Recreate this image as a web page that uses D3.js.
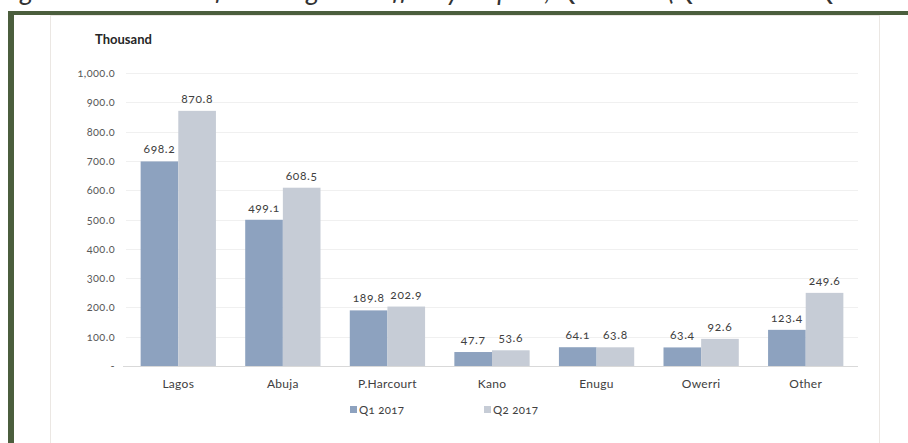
<!DOCTYPE html>
<html>
<head>
<meta charset="utf-8">
<script src="https://cdn.jsdelivr.net/npm/d3@7"></script>
<style>
  html, body { margin: 0; padding: 0; background: #ffffff; }
  svg { display: block; }
  text { font-family: Lato, "Open Sans", sans-serif; font-variant-numeric: oldstyle-nums; }
</style>
</head>
<body>
<svg id="chart" width="908" height="443"></svg>
<script>
const categories = ["Lagos", "Abuja", "P.Harcourt", "Kano", "Enugu", "Owerri", "Other"];
const seriesNames = ["Q1 2017", "Q2 2017"];
const q1Values = [698.2, 499.1, 189.8, 47.7, 64.1, 63.4, 123.4];
const q2Values = [870.8, 608.5, 202.9, 53.6, 63.8, 92.6, 249.6];
const yTicks = [0, 100, 200, 300, 400, 500, 600, 700, 800, 900, 1000];
const yTickLabels = ["-", "100.0", "200.0", "300.0", "400.0", "500.0", "600.0", "700.0", "800.0", "900.0", "1,000.0"];
const unitLabel = "Thousand";
const figureTitle = "Figure 9: Number of Passengers Traffic by Airport, Q2 2017 (Q1 2017 vs Q2 2017)";

const colors = ["#8da2bf", "#c6ccd6"];
const svg = d3.select("#chart");

// cut-off figure title at very top (only descenders visible, as in the source crop)
svg.append("text")
  .attr("x", 0).attr("y", 0)
  .attr("font-size", 27).attr("font-style", "italic")
  .attr("fill", "#333")
  .style("font-variant-numeric", "normal")
  .text(figureTitle);

// green frame
svg.append("rect").attr("x", 8).attr("y", 11).attr("width", 900).attr("height", 4).attr("fill", "#4b5e3d");
svg.append("rect").attr("x", 8).attr("y", 11).attr("width", 6).attr("height", 432).attr("fill", "#4b5e3d");

// chart panel
svg.append("rect").attr("x", 50.5).attr("y", 15.5).attr("width", 829).attr("height", 440)
  .attr("fill", "#ffffff").attr("stroke", "#ebe7e3").attr("stroke-width", 1);

const plot = { left: 126, right: 858, top: 73, bottom: 366 };

const x0 = d3.scaleBand().domain(categories).range([plot.left, plot.right]).paddingInner(0.28).paddingOuter(0.14);
const x1 = d3.scaleBand().domain(seriesNames).range([0, x0.bandwidth()]).padding(0);
const y = d3.scaleLinear().domain([0, 1000]).range([plot.bottom, plot.top]);

// gridlines
svg.append("g").selectAll("line").data(yTicks.filter(d => d > 0)).join("line")
  .attr("x1", plot.left).attr("x2", plot.right)
  .attr("y1", d => Math.round(y(d)) + 0.5).attr("y2", d => Math.round(y(d)) + 0.5)
  .attr("stroke", "#f0f0f0").attr("stroke-width", 1);

// y axis
const yAxis = d3.axisLeft(y).tickValues(yTicks).tickSize(0).tickPadding(11)
  .tickFormat((d, i) => yTickLabels[i]);
const yg = svg.append("g").attr("transform", `translate(${plot.left},0)`).call(yAxis);
yg.select(".domain").remove();
yg.selectAll("text").attr("font-size", 11).attr("fill", "#595959")
  .style("font-family", "Lato, sans-serif").style("letter-spacing", "0.4px");

// bars
const groups = svg.append("g").selectAll("g").data(categories).join("g")
  .attr("transform", d => `translate(${x0(d)},0)`);
const barData = (c, i) => seriesNames.map((s, k) => ({ s, k, v: (k === 0 ? q1Values : q2Values)[i] }));
groups.selectAll("rect").data(barData).join("rect")
  .attr("x", d => x1(d.s)).attr("width", x1.bandwidth())
  .attr("y", d => y(d.v)).attr("height", d => y(0) - y(d.v))
  .attr("fill", d => colors[d.k]);
groups.selectAll("text").data(barData).join("text")
  .attr("x", d => x1(d.s) + x1.bandwidth() / 2)
  .attr("y", d => y(d.v) - 8)
  .attr("text-anchor", "middle").attr("font-size", 12).attr("fill", "#404040")
  .style("letter-spacing", "0.6px")
  .text(d => d.v.toFixed(1));

// x axis
const xAxis = d3.axisBottom(x0).tickSize(0).tickPadding(13);
const xg = svg.append("g").attr("transform", `translate(0,${plot.bottom})`).call(xAxis);
xg.select(".domain").attr("stroke", "#d9d9d9").attr("d", `M${plot.left - 3},0.5H${plot.right}`);
xg.selectAll("text").attr("font-size", 12).attr("fill", "#404040")
  .style("font-family", "Lato, sans-serif").style("letter-spacing", "0.3px");

// unit label
svg.append("text").attr("x", 95).attr("y", 44)
  .attr("font-size", 13).attr("font-weight", "bold").attr("fill", "#262626")
  .text(unitLabel);

// legend
const legendX = [350, 484];
const lg = svg.append("g").selectAll("g").data(seriesNames).join("g")
  .attr("transform", (d, i) => `translate(${legendX[i]},410)`);
lg.append("rect").attr("x", 0).attr("y", -4).attr("width", 7).attr("height", 7).attr("fill", (d, i) => colors[i]);
lg.append("text").attr("x", 9).attr("y", 4).attr("font-size", 11.5).attr("fill", "#404040")
  .style("letter-spacing", "0.3px").text(d => d);
</script>
</body>
</html>
